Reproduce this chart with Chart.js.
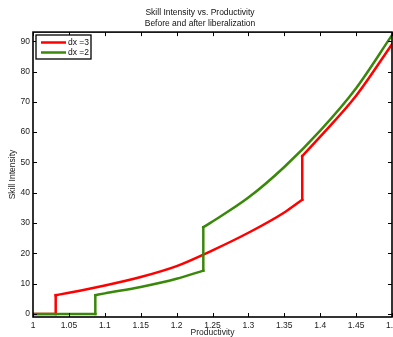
<!DOCTYPE html>
<html>
<head>
<meta charset="utf-8">
<script src="https://cdn.jsdelivr.net/npm/chart.js@4/dist/chart.umd.min.js"></script>
<style>
  html, body { margin: 0; padding: 0; background: #fff; }
</style>
</head>
<body>
<canvas id="chart" width="393" height="337"></canvas>
<script>
// tick labels
const xTicks = [1, 1.05, 1.1, 1.15, 1.2, 1.25, 1.3, 1.35, 1.4, 1.45, 1.5];
const yTicks = [0, 10, 20, 30, 40, 50, 60, 70, 80, 90];

// series
const seriesNames = ['dx =3', 'dx =2'];
const seriesColors = ['#ff0000', '#3a880a'];
const redX = [1, 1.0316, 1.0316, 1.05, 1.1, 1.15, 1.2, 1.25, 1.3, 1.35, 1.375, 1.375, 1.4, 1.45, 1.5];
const redY = [0, 0, 6.2, 7.0, 9.4, 12.2, 15.8, 21.0, 26.8, 33.5, 37.7, 52.1, 58.5, 72.0, 89.0];
const greenX = [1, 1.0868, 1.0868, 1.1, 1.15, 1.2, 1.2372, 1.2372, 1.25, 1.3, 1.35, 1.4, 1.45, 1.5];
const greenY = [0, 0, 6.2, 6.8, 8.9, 11.6, 14.3, 28.6, 30.5, 38.4, 48.5, 60.5, 74.5, 92.0];

const FONT = 'Liberation Sans, Arial, Helvetica, sans-serif';
const pts = (xs, ys) => xs.map((x, i) => ({ x: x, y: ys[i] }));

// break a series at its vertical jumps so the smooth parts can be curved
function splitRuns(points) {
  const runs = [];
  let cur = [points[0]];
  for (let i = 1; i < points.length; i++) {
    if (points[i].x === points[i - 1].x) {
      runs.push(cur);
      runs.push([points[i - 1], points[i]]);
      cur = [points[i]];
    } else {
      cur.push(points[i]);
    }
  }
  runs.push(cur);
  return runs;
}

function seriesDatasets(xs, ys, idx, order) {
  return splitRuns(pts(xs, ys)).map(run => ({
    label: seriesNames[idx],
    data: run,
    borderColor: seriesColors[idx],
    order: order
  }));
}

// box + inward ticks on all four sides, like MATLAB
const framePlugin = {
  id: 'frame',
  afterDatasetsDraw(chart) {
    const { ctx, chartArea: a, scales } = chart;
    const len = 4;
    ctx.save();
    ctx.strokeStyle = '#000';
    ctx.lineWidth = 1;
    ctx.beginPath();
    scales.x.ticks.forEach(t => {
      const px = Math.round(scales.x.getPixelForValue(t.value)) + 0.5;
      ctx.moveTo(px, a.bottom); ctx.lineTo(px, a.bottom - len);
      ctx.moveTo(px, a.top); ctx.lineTo(px, a.top + len);
    });
    scales.y.ticks.forEach(t => {
      const py = Math.round(scales.y.getPixelForValue(t.value)) + 0.5;
      ctx.moveTo(a.left, py); ctx.lineTo(a.left + len, py);
      ctx.moveTo(a.right, py); ctx.lineTo(a.right - len, py);
    });
    ctx.stroke();
    ctx.lineWidth = 1.6;
    ctx.strokeRect(a.left, a.top, a.right - a.left, a.bottom - a.top);

    // legend box
    const lx = 36, ly = 35, lw = 55, lh = 24;
    ctx.fillStyle = '#fff';
    ctx.fillRect(lx, ly, lw, lh);
    ctx.lineWidth = 1.3;
    ctx.strokeRect(lx, ly, lw, lh);
    ctx.font = '8.5px ' + FONT;
    ctx.textBaseline = 'middle';
    seriesNames.forEach((name, i) => {
      const y = ly + 7.5 + i * 10;
      ctx.strokeStyle = seriesColors[i];
      ctx.lineWidth = 2.5;
      ctx.beginPath();
      ctx.moveTo(lx + 5, y); ctx.lineTo(lx + 30, y);
      ctx.stroke();
      ctx.fillStyle = '#111';
      ctx.fillText(name, lx + 32, y);
    });
    ctx.restore();
  }
};

new Chart(document.getElementById('chart'), {
  type: 'line',
  data: {
    datasets: [
      ...seriesDatasets(redX, redY, 0, 1),
      ...seriesDatasets(greenX, greenY, 1, 0)
    ]
  },
  options: {
    responsive: false,
    animation: false,
    layout: { autoPadding: false, padding: { left: 8, right: 1, top: 0, bottom: 0 } },
    elements: {
      point: { radius: 0 },
      line: {
        borderWidth: 2.5,
        cubicInterpolationMode: 'monotone',
        borderCapStyle: 'square',
        borderJoinStyle: 'miter',
        fill: false
      }
    },
    plugins: {
      legend: { display: false },
      tooltip: { enabled: false },
      title: {
        display: true,
        text: ['Skill Intensity vs. Productivity', 'Before and after liberalization'],
        color: '#111',
        font: { family: FONT, size: 8.5, weight: 'normal', lineHeight: 1.3 },
        padding: { top: 7.5, bottom: 2.5 }
      }
    },
    scales: {
      x: {
        type: 'linear',
        min: 1, max: 1.5,
        grid: { display: false, drawTicks: false },
        border: { display: false },
        afterBuildTicks: s => { s.ticks = xTicks.map(v => ({ value: v })); },
        afterFit: s => { s.height = 20; s.paddingLeft = 0; s.paddingRight = 0; },
        ticks: {
          padding: 3.5,
          maxRotation: 0,
          color: '#222',
          font: { family: FONT, size: 8.5 },
          callback: v => String(v)
        },
        title: {
          display: true, text: 'Productivity', color: '#222',
          font: { family: FONT, size: 8.5, lineHeight: 1 }, padding: 0
        }
      },
      y: {
        type: 'linear',
        min: -1, max: 93,
        grid: { display: false, drawTicks: false },
        border: { display: false },
        afterBuildTicks: s => { s.ticks = yTicks.map(v => ({ value: v })); },
        afterFit: s => { s.width = 25; s.paddingTop = 0; s.paddingBottom = 0; },
        ticks: {
          padding: 3,
          color: '#222',
          font: { family: FONT, size: 8.5 },
          callback: v => String(v)
        },
        title: {
          display: true, text: 'Skill Intensity', color: '#222',
          font: { family: FONT, size: 8.5 }, padding: 0
        }
      }
    }
  },
  plugins: [framePlugin]
});
</script>
</body>
</html>
